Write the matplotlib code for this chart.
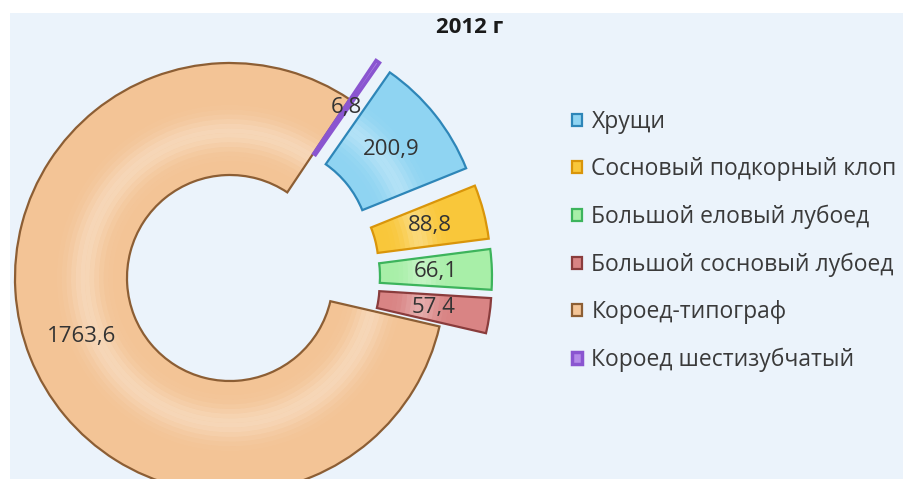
import numpy as np
import matplotlib.pyplot as plt
from matplotlib.patches import Rectangle, Wedge

# Data
labels = ['Хрущи', 'Сосновый подкорный клоп', 'Большой еловый лубоед',
          'Большой сосновый лубоед', 'Короед-типограф', 'Короед шестизубчатый']
values = [200.9, 88.8, 66.1, 57.4, 1763.6, 6.8]
title = '2012 г'

face_colors = ['#8FD4F2', '#F9C73A', '#A8EFA8', '#D98484', '#F3C496', '#B48AE8']
edge_colors = ['#2E86B8', '#D9950A', '#3DB45C', '#8A3C3C', '#8C5E34', '#8A55D0']
pulled_out = [True, True, True, True, False, True]

total = sum(values)

plt.rcParams['font.family'] = ['Open Sans', 'DejaVu Sans']

fig = plt.figure(figsize=(9.04, 4.79), dpi=100, facecolor='white')
ax = fig.add_axes([0, 0, 1, 1])

# pixel-like coordinates
W, H = 904, 479
radius = 215
ring = 112
center = (230, 201)
explode = [47 if p else 0 for p in pulled_out]

wedges, _, autotexts = ax.pie(
    values, colors=face_colors, explode=explode, radius=radius, center=center,
    startangle=55.1, counterclock=False,
    wedgeprops=dict(width=ring, linewidth=1.6),
    autopct=lambda p: f'{p * total / 100:.1f}'.replace('.', ','),
    pctdistance=0.74,
    textprops=dict(fontsize=16, color='#333333'))

for w, ec in zip(wedges, edge_colors):
    w.set_edgecolor(ec)
    w.set_zorder(3)
wedges[-1].set_linewidth(2.5)

# soft glossy sheen: thin concentric bands with a bell-shaped alpha
steps = 24
for w in wedges[:-1]:
    inner = w.r - ring
    for k in range(steps):
        f = (k + 0.5) / steps
        a = 0.32 * np.exp(-((f - 0.38) / 0.14) ** 2)
        ax.add_patch(Wedge(w.center, inner + (k + 1) * ring / steps,
                           w.theta1 + 0.5, w.theta2 - 0.5, width=ring / steps,
                           facecolor='white', alpha=a, edgecolor='none',
                           linewidth=0, zorder=4))

for t in autotexts:
    t.set_zorder(5)

ax.set_xlim(0, W)
ax.set_ylim(0, H)
ax.set_aspect('equal')
ax.axis('off')

# panel background
ax.add_patch(Rectangle((10, 0), W - 10, H - 13, facecolor='#EBF3FB',
                       edgecolor='none', zorder=0))

ax.text(470, H - 27, title, ha='center', va='center', fontsize=16,
        fontweight='bold', color='#1A1A1A')

leg = ax.legend(wedges, labels, loc='upper left', bbox_to_anchor=(572, H - 110),
                bbox_transform=ax.transData, frameon=False, fontsize=16.5,
                handlelength=0.45, handleheight=0.45, handletextpad=0.4,
                labelspacing=1.02, borderpad=0, borderaxespad=0)
for t in leg.get_texts():
    t.set_color('#3A3A3A')

fig.savefig('out.png', dpi=100, facecolor=fig.get_facecolor())
